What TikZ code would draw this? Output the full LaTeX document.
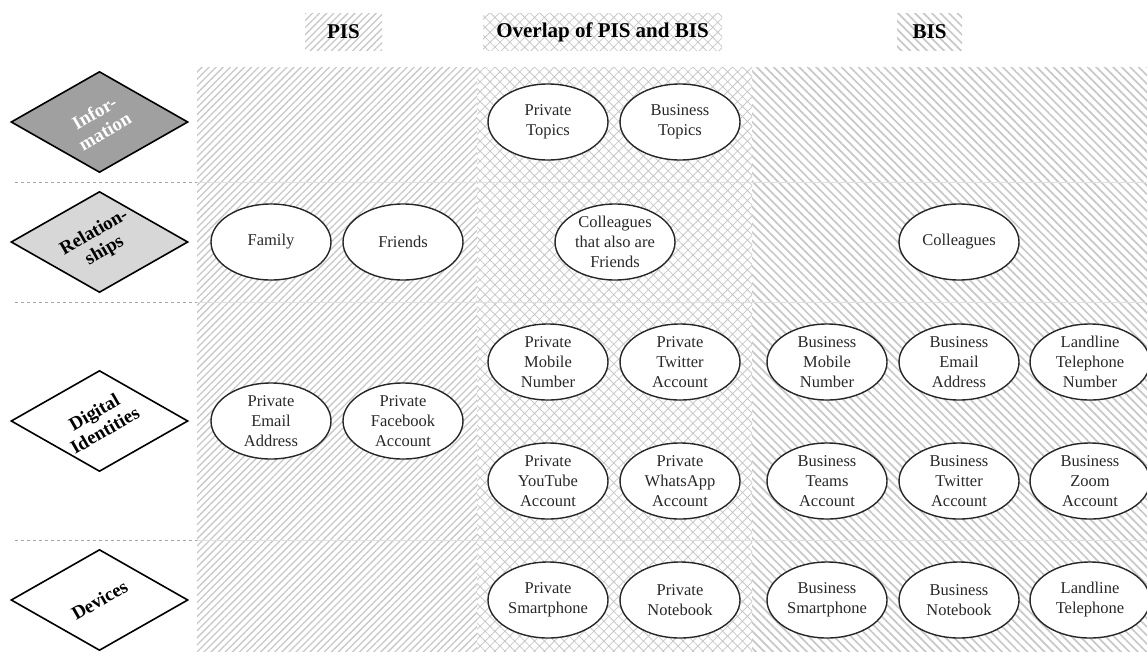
\documentclass[tikz,border=0pt]{standalone}
\usepackage{fontspec}
\setmainfont{Liberation Serif}
\usetikzlibrary{shapes.geometric,patterns.meta}

\definecolor{hatchgray}{RGB}{200,200,200}
\definecolor{infofill}{RGB}{160,160,160}
\definecolor{relfill}{RGB}{215,215,215}
\definecolor{inktext}{RGB}{40,40,40}

\tikzset{
  pisfill/.style={pattern={Lines[angle=45,distance=5pt,line width=1.3pt]},pattern color=hatchgray},
  bisfill/.style={pattern={Lines[angle=-45,distance=6pt,line width=1.7pt]},pattern color=hatchgray},
  overlapfill/.style={pattern={Hatch[angle=45,distance=7pt,line width=0.8pt]},pattern color=hatchgray},
  item/.style={ellipse,draw=black!85,line width=1.4pt,fill=white,
    minimum width=120pt,minimum height=76pt,inner xsep=0pt,inner ysep=-8pt,
    align=center,text=inktext,font=\fontsize{16.5}{20}\selectfont},
  layer/.style={diamond,draw=black,line width=1.6pt,
    minimum width=177pt,minimum height=101pt,inner sep=0pt},
  layertext/.style={rotate=30,align=center,font=\bfseries\fontsize{19}{21}\selectfont},
  header/.style={font=\bfseries\fontsize{21}{24}\selectfont,inner sep=0pt},
  rowline/.style={draw=black!12,line width=0.9pt},
  rowdash/.style={draw=black!35,dashed,line width=0.7pt},
}

\begin{document}
\begin{tikzpicture}[x=1pt,y=-1pt]
\useasboundingbox (0,0) rectangle (1147,651);

% column bands
\fill[pisfill] (197,67) rectangle (477,651);
\fill[overlapfill] (477,67) rectangle (752,651);
\fill[bisfill] (752,67) rectangle (1147,651);

% header boxes
\fill[pisfill] (305,13) rectangle (382,50);
\fill[overlapfill] (483,13) rectangle (722,50);
\fill[bisfill] (897,13) rectangle (962,50);
\node[header] (hpis) at (343.5,32) {PIS};
\node[header] (hoverlap) at (602.5,32) {Overlap of PIS and BIS};
\node[header] (hbis) at (929.5,32) {BIS};

% row separators
\foreach \yy in {182,302,540}{
  \draw[rowline] (197,\yy) -- (1147,\yy);
  \draw[rowdash] (15,\yy) -- (197,\yy);
}

% layer diamonds
\node[layer,fill=infofill] (dinfo) at (99.5,122) {};
\node[layertext,text=white] (tinfo) at (dinfo) {Infor-\\mation};
\node[layer,fill=relfill] (drel) at (99.5,242) {};
\node[layertext] (trel) at (drel) {Relation-\\ships};
\node[layer,fill=white] (ddig) at (99.5,421) {};
\node[layertext] (tdig) at (ddig) {Digital\\Identities};
\node[layer,fill=white] (ddev) at (99.5,600) {};
\node[layertext] (tdev) at (ddev) {Devices};

% information
\node[item] (ptopics) at (548,122) {Private\\Topics};
\node[item] (btopics) at (680,122) {Business\\Topics};

% relationships
\node[item] (family) at (271,242) {Family};
\node[item] (friends) at (403,242) {Friends};
\node[item] (colfriends) at (615,242) {Colleagues\\that also are\\Friends};
\node[item] (colleagues) at (959,242) {Colleagues};

% digital identities
\node[item] (pemail) at (271,421) {Private\\Email\\Address};
\node[item] (pfb) at (403,421) {Private\\Facebook\\Account};
\node[item] (pmobile) at (548,362) {Private\\Mobile\\Number};
\node[item] (ptwitter) at (680,362) {Private\\Twitter\\Account};
\node[item] (pyoutube) at (548,481) {Private\\YouTube\\Account};
\node[item] (pwhatsapp) at (680,481) {Private\\WhatsApp\\Account};
\node[item] (bmobile) at (827,362) {Business\\Mobile\\Number};
\node[item] (bemail) at (959,362) {Business\\Email\\Address};
\node[item] (lnumber) at (1090,362) {Landline\\Telephone\\Number};
\node[item] (bteams) at (827,481) {Business\\Teams\\Account};
\node[item] (btwitter) at (959,481) {Business\\Twitter\\Account};
\node[item] (bzoom) at (1090,481) {Business\\Zoom\\Account};

% devices
\node[item] (psmart) at (548,600) {Private\\Smartphone};
\node[item] (pnote) at (680,600) {Private\\Notebook};
\node[item] (bsmart) at (827,600) {Business\\Smartphone};
\node[item] (bnote) at (959,600) {Business\\Notebook};
\node[item] (lphone) at (1090,600) {Landline\\Telephone};
\end{tikzpicture}
\end{document}
